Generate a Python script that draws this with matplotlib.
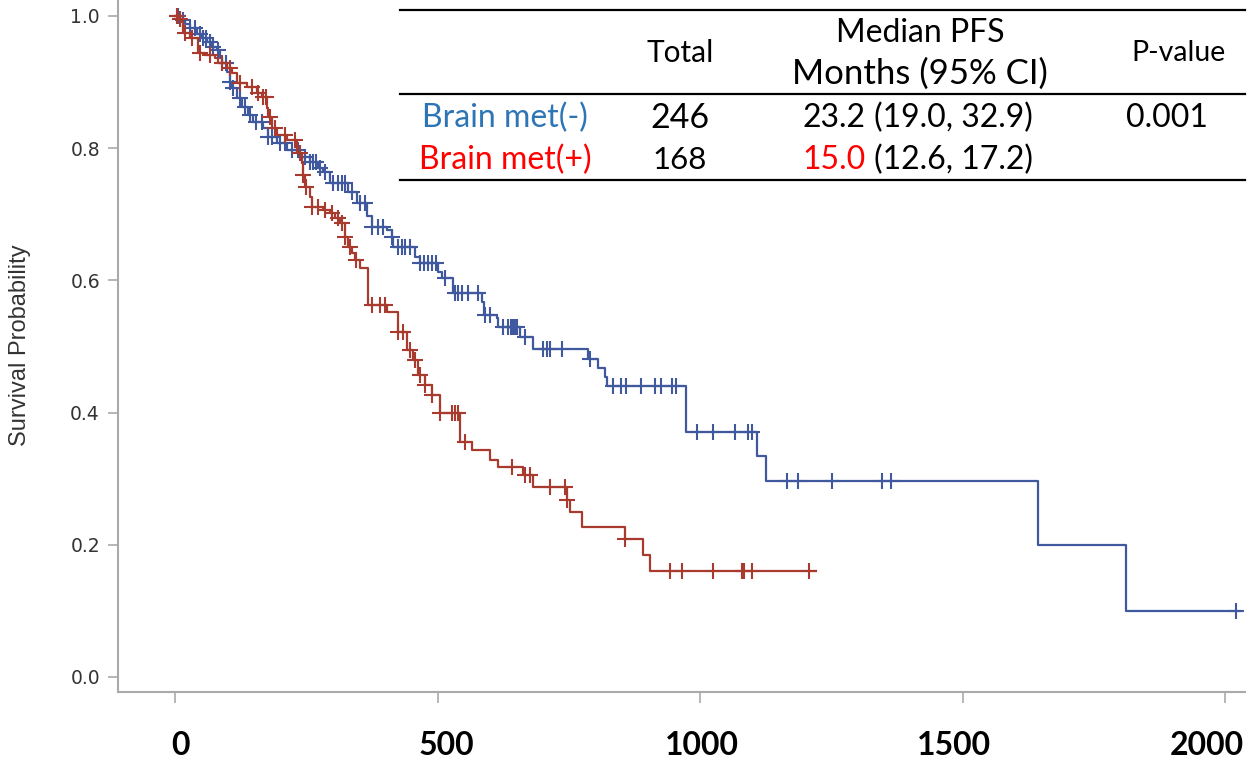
import numpy as np
import matplotlib
matplotlib.use("Agg")
import matplotlib.pyplot as plt
import matplotlib.transforms as mtransforms
from matplotlib.lines import Line2D

# Brain met(-): day of each drop and survival right after it
neg_days = [0, 10, 19, 29, 42, 51, 61, 71, 80, 86, 90, 99, 105, 109, 118, 128, 139, 149,
            168, 177, 194, 213, 238, 257, 272, 282, 295, 330, 347, 366, 375, 404, 413,
            416, 457, 467, 501, 509, 530, 585, 588, 613, 616, 657, 682, 787, 806, 819,
            823, 973, 1109, 1126, 1644, 1811]
neg_surv = [1.0, 0.994, 0.988, 0.982, 0.973, 0.967, 0.961, 0.953, 0.949, 0.936, 0.929,
            0.915, 0.900, 0.891, 0.876, 0.862, 0.850, 0.840, 0.831, 0.817, 0.808, 0.797,
            0.787, 0.779, 0.770, 0.764, 0.747, 0.734, 0.717, 0.698, 0.681, 0.676, 0.666,
            0.651, 0.635, 0.626, 0.612, 0.604, 0.581, 0.568, 0.548, 0.543, 0.530, 0.514,
            0.496, 0.481, 0.467, 0.454, 0.440, 0.371, 0.334, 0.297, 0.200, 0.100]
neg_end = 2029
neg_censor = [6, 15, 29, 38, 48, 53, 59, 67, 72, 82, 90, 97, 105, 110, 124, 133, 143, 154,
              166, 177, 185, 200, 210, 223, 234, 248, 257, 263, 269, 276, 286, 301, 310,
              318, 324, 337, 352, 362, 375, 387, 396, 413, 425, 432, 438, 448, 467, 474,
              482, 490, 497, 514, 533, 539, 547, 558, 577, 590, 600, 625, 634, 640, 644,
              648, 651, 667, 701, 709, 714, 737, 790, 834, 850, 859, 888, 914, 926, 947,
              954, 994, 1025, 1067, 1091, 1099, 1166, 1187, 1251, 1347, 1364, 2021]

# Brain met(+)
pos_days = [0, 6, 13, 15, 29, 44, 57, 76, 82, 99, 109, 118, 137, 156, 166, 175, 177, 185,
            194, 213, 232, 242, 244, 248, 257, 261, 282, 295, 305, 314, 324, 330, 337,
            343, 352, 368, 404, 425, 442, 453, 463, 476, 490, 505, 543, 566, 600, 615,
            663, 682, 747, 752, 775, 857, 891, 905]
pos_surv = [1.0, 0.995, 0.991, 0.974, 0.967, 0.944, 0.941, 0.936, 0.929, 0.921, 0.914,
            0.899, 0.893, 0.884, 0.877, 0.861, 0.847, 0.831, 0.820, 0.812, 0.793, 0.778,
            0.759, 0.741, 0.726, 0.711, 0.707, 0.702, 0.695, 0.687, 0.666, 0.651, 0.641,
            0.631, 0.619, 0.563, 0.552, 0.522, 0.495, 0.480, 0.457, 0.442, 0.427, 0.399,
            0.356, 0.343, 0.328, 0.318, 0.306, 0.287, 0.268, 0.250, 0.227, 0.209, 0.185,
            0.160]
pos_end = 1221
pos_censor = [4, 10, 19, 32, 48, 67, 90, 105, 124, 147, 158, 168, 173, 181, 190, 210, 229,
              238, 244, 250, 261, 272, 286, 299, 310, 318, 324, 333, 345, 375, 390, 400,
              425, 434, 448, 457, 467, 476, 490, 505, 528, 533, 539, 552, 642, 667, 676,
              714, 743, 747, 857, 943, 966, 1025, 1080, 1084, 1099, 1208]

x_ticks = [0, 500, 1000, 1500, 2000]
y_ticks = [0.0, 0.2, 0.4, 0.6, 0.8, 1.0]

# summary table
table_header = ["Total", "Median PFS", "Months (95% CI)", "P-value"]
group_names = ["Brain met(-)", "Brain met(+)"]
group_totals = ["246", "168"]
group_median = ["23.2", "15.0"]
group_ci = ["(19.0, 32.9)", "(12.6, 17.2)"]
p_value = "0.001"

BLUE = "#3f589e"
RED = "#a83a2e"
W, H = 1255, 765


def km_curve(ax, days, surv, end, censor, color):
    t = np.append(days, end)
    s = np.append(surv, surv[-1])
    ax.step(t, s, where="post", color=color, lw=1.6)
    idx = np.searchsorted(days, censor, side="right") - 1
    ax.plot(censor, np.asarray(surv)[idx], "+", color=color, ms=12, mew=1.5, ls="none")


fig = plt.figure(figsize=(W / 100, H / 100), dpi=100)
ax = fig.add_axes([118 / W, 73 / H, (1245 - 118) / W, 692 / H])

km_curve(ax, neg_days, neg_surv, neg_end, neg_censor, BLUE)
km_curve(ax, pos_days, pos_surv, pos_end, pos_censor, RED)

ax.set_xlim(-108.6, 2038)
ax.set_ylim(-0.0227, 1.0242)
for side in ["top", "right"]:
    ax.spines[side].set_visible(False)
for side in ["left", "bottom"]:
    ax.spines[side].set_color("#aaaaaa")
    ax.spines[side].set_linewidth(1.5)

ax.set_xticks(x_ticks)
ax.set_xticklabels([str(v) for v in x_ticks], fontfamily="Lato", fontweight="bold", fontsize=23)
ax.set_yticks(y_ticks)
ax.set_yticklabels(["%.1f" % v for v in y_ticks], fontfamily="DejaVu Sans", fontsize=13.5,
                   color="#333333")
ax.tick_params(axis="x", length=8, width=1.2, color="#aaaaaa", pad=20)
ax.tick_params(axis="y", length=7, width=1.2, color="#aaaaaa", pad=6)

# the bold labels sit a little off their ticks in the original
label_shift = [5, 9, 2, -9, -18]
for lab, dx in zip(ax.get_xticklabels(), label_shift):
    lab.set_transform(lab.get_transform()
                      + mtransforms.ScaledTranslation(dx / 100, 0, fig.dpi_scale_trans))

fig.text(20 / W, 1 - 345 / H, "Survival Probability", rotation=90, ha="center", va="center",
         fontsize=17, color="#333333", fontfamily="Liberation Sans")


def ftext(x, y, s, **kw):
    kw.setdefault("fontfamily", "Lato")
    kw.setdefault("fontsize", 23)
    kw.setdefault("va", "center")
    kw.setdefault("ha", "center")
    fig.text(x / W, 1 - y / H, s, **kw)


for y in [10, 94, 180]:
    fig.add_artist(Line2D([400 / W, 1245 / W], [1 - y / H, 1 - y / H], color="black", lw=1.6))

ftext(680, 53, table_header[0], fontsize=21.5)
ftext(920, 33, table_header[1], fontsize=23)
ftext(920, 74, table_header[2], fontsize=25)
ftext(1178, 53, table_header[3], fontsize=20.5)

row_y = [118, 160]
name_colors = ["#2e75b6", "#ff0000"]
median_colors = ["black", "#ff0000"]
total_sizes = [24.5, 22.5]
for i in range(2):
    ftext(505, row_y[i], group_names[i], color=name_colors[i])
    ftext(680, row_y[i], group_totals[i], fontsize=total_sizes[i])
    ftext(866, row_y[i], group_median[i], ha="right", color=median_colors[i])
    ftext(874, row_y[i], group_ci[i], ha="left")
ftext(1167, row_y[0], p_value)

fig.savefig("out.png", dpi=100)
